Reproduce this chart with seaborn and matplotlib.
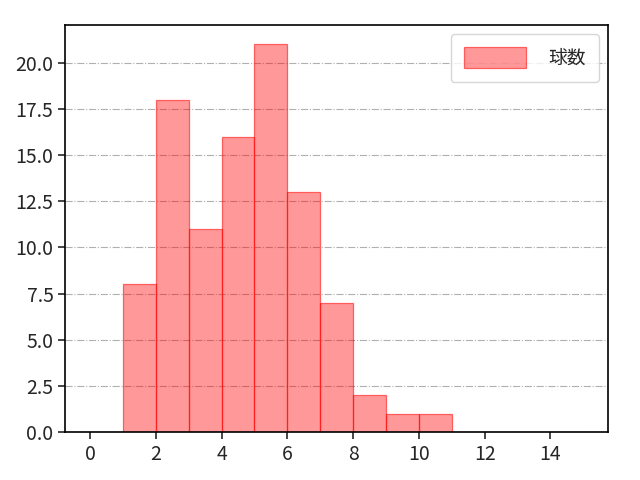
import numpy as np
import pandas as pd
import matplotlib
matplotlib.use("Agg")
import matplotlib.pyplot as plt
import seaborn as sns

# Histogram values (pitch counts per bin)
bin_values = [1, 2, 3, 4, 5, 6, 7, 8, 9, 10]
bin_counts = [8, 18, 11, 16, 21, 13, 7, 2, 1, 1]
bin_edges = list(range(0, 16))
xticks = [0, 2, 4, 6, 8, 10, 12, 14]
series_label = "球数"

sns.set_style("ticks")
plt.rcParams['font.family'] = ['Noto Sans CJK JP', 'DejaVu Sans']

data = pd.DataFrame({"球数": np.repeat(np.array(bin_values) + 0.5, bin_counts)})

fig = plt.figure(figsize=(6.4, 4.8), dpi=100)
ax = fig.add_axes([0.102, 0.1, 0.848, 0.848])
sns.histplot(data=data, x="球数", bins=bin_edges, facecolor=(1, 0, 0, 0.4),
             edgecolor=(1, 0, 0, 0.55), linewidth=0.9, label=series_label, ax=ax)
ax.set_xlabel("")
ax.set_ylabel("")
ax.set_xticks(xticks)
ax.grid(axis="y", linestyle="-.", color="#b0b0b0", linewidth=0.8)
ax.set_axisbelow(True)
ax.tick_params(labelsize=14, width=1.2, length=5)
ax.legend(loc="upper right", fontsize=13.5, handlelength=3.3, handleheight=1.3,
          borderpad=0.7, handletextpad=1.2)
for s in ax.spines.values():
    s.set_visible(True)
    s.set_color("black")
    s.set_linewidth(1.2)
fig.savefig("out.png", dpi=100)
